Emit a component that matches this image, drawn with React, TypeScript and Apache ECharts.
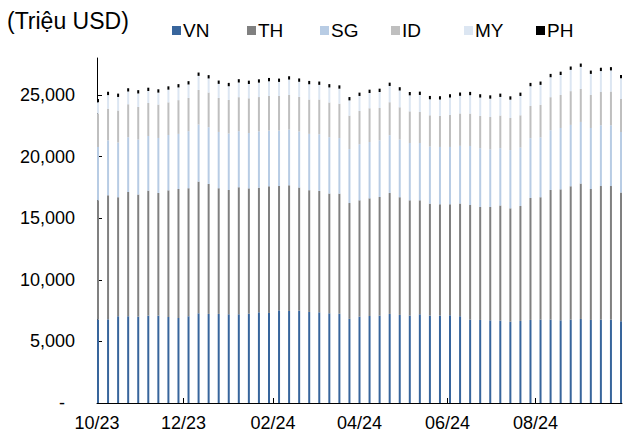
import { useEffect, useRef } from "react";
import * as echarts from "echarts";

const weeks = [
  "2023-10-02", "2023-10-09", "2023-10-16", "2023-10-23", "2023-10-30",
  "2023-11-06", "2023-11-13", "2023-11-20", "2023-11-27",
  "2023-12-04", "2023-12-11", "2023-12-18", "2023-12-25",
  "2024-01-01", "2024-01-08", "2024-01-15", "2024-01-22", "2024-01-29",
  "2024-02-05", "2024-02-12", "2024-02-19", "2024-02-26",
  "2024-03-04", "2024-03-11", "2024-03-18", "2024-03-25",
  "2024-04-01", "2024-04-08", "2024-04-15", "2024-04-22", "2024-04-29",
  "2024-05-06", "2024-05-13", "2024-05-20", "2024-05-27",
  "2024-06-03", "2024-06-10", "2024-06-17", "2024-06-24",
  "2024-07-01", "2024-07-08", "2024-07-15", "2024-07-22", "2024-07-29",
  "2024-08-05", "2024-08-12", "2024-08-19", "2024-08-26",
  "2024-09-02", "2024-09-09", "2024-09-16", "2024-09-23", "2024-09-30",
];

const vn = [6770, 6790, 7040, 7040, 7010, 7090, 7090, 6980, 6900, 7040, 7280, 7230, 7230, 7200, 7200, 7250, 7360, 7310, 7520, 7470, 7500, 7390, 7360, 7280, 7250, 6830, 7010, 7060, 7090, 7230, 7150, 7090, 7200, 7090, 7090, 7120, 7040, 6770, 6740, 6710, 6690, 6600, 6660, 6740, 6770, 6770, 6710, 6770, 6820, 6740, 6770, 6770, 6630];
const th = [9680, 10070, 9660, 10090, 9910, 10150, 9960, 10280, 10470, 10390, 10690, 10550, 10200, 10090, 10310, 10170, 10120, 10280, 10090, 10200, 9990, 9880, 9850, 9720, 9740, 9400, 9440, 9550, 9630, 9820, 9550, 9360, 9250, 9090, 9040, 9010, 9150, 9300, 9170, 9200, 9340, 9200, 9330, 9900, 9930, 10520, 10630, 10820, 10990, 10630, 10840, 10840, 10450];
const sg = [4330, 4460, 4440, 4440, 4460, 4430, 4460, 4490, 4470, 4630, 4630, 4600, 4570, 4580, 4550, 4490, 4570, 4520, 4500, 4520, 4550, 4570, 4600, 4570, 4510, 4380, 4550, 4570, 4600, 4680, 4680, 4650, 4650, 4630, 4650, 4650, 4680, 4790, 4770, 4680, 4650, 4730, 4740, 4850, 4850, 4850, 4980, 4980, 5000, 4950, 4930, 4930, 4920];
const id = [2710, 2570, 2600, 2680, 2650, 2680, 2710, 2650, 2740, 2700, 2810, 2820, 2760, 2730, 2760, 2820, 2780, 2810, 2810, 2810, 2810, 2790, 2820, 2820, 2790, 2710, 2700, 2740, 2620, 2680, 2620, 2570, 2520, 2540, 2520, 2600, 2630, 2630, 2620, 2620, 2650, 2600, 2620, 2620, 2650, 2680, 2680, 2740, 2680, 2680, 2700, 2740, 2680];
const my = [920, 1100, 1100, 1030, 1090, 970, 970, 1030, 1030, 1090, 1140, 1140, 1140, 1110, 1190, 1160, 1170, 1190, 1140, 1250, 1220, 1240, 1190, 1220, 1220, 1240, 1220, 1240, 1300, 1320, 1360, 1300, 1380, 1300, 1330, 1410, 1430, 1490, 1490, 1490, 1510, 1490, 1570, 1600, 1620, 1620, 1620, 1730, 1790, 1710, 1700, 1710, 1680];
const ph = [270, 270, 270, 270, 270, 270, 270, 270, 270, 270, 270, 270, 270, 270, 270, 270, 270, 270, 270, 270, 270, 270, 270, 270, 270, 270, 270, 270, 270, 270, 270, 270, 270, 270, 270, 270, 270, 270, 270, 270, 270, 270, 270, 270, 270, 270, 270, 270, 270, 270, 270, 270, 270];

const seriesNames = ["VN", "TH", "SG", "ID", "MY", "PH"];
const seriesValues = [vn, th, sg, id, my, ph];
const seriesColors = ["#38659C", "#808080", "#B8CCE4", "#BFBFBF", "#DCE6F2", "#000000"];
const legendLefts = [172, 247, 320, 391, 464, 536];

const xTickDates = ["2023-10-02", "2023-12-01", "2024-02-01", "2024-04-01", "2024-06-01", "2024-08-01"];
const xTickLabels = ["10/23", "12/23", "02/24", "04/24", "06/24", "08/24"];
const yTicks = [0, 5000, 10000, 15000, 20000, 25000];

const FONT = "'Liberation Sans', Arial, sans-serif";

function ts(s: string): number {
  const [y, m, d] = s.split("-").map(Number);
  return new Date(y, m - 1, d).getTime();
}

export default function App() {
  const ref = useRef<HTMLDivElement>(null);

  useEffect(() => {
    if (!ref.current) return;
    const chart = echarts.init(ref.current, null, { renderer: "svg" });
    const xTickTs = xTickDates.map(ts);
    const xMin = ts(weeks[0]);
    const xMax = ts(weeks[weeks.length - 1]);
    const labelFor = (v: number) => {
      let best = 0;
      let bd = Infinity;
      xTickTs.forEach((t, i) => {
        const d = Math.abs(t - v);
        if (d < bd) {
          bd = d;
          best = i;
        }
      });
      return xTickLabels[best];
    };

    chart.setOption({
      animation: false,
      backgroundColor: "#ffffff",
      textStyle: { fontFamily: FONT },
      title: {
        text: "(Triệu USD)",
        left: 7,
        top: 9,
        padding: 0,
        textStyle: { fontFamily: FONT, fontSize: 23, fontWeight: "normal", color: "#000" },
      },
      legend: seriesNames.map((n, i) => ({
        data: [n],
        left: legendLefts[i],
        top: 21,
        padding: 0,
        itemGap: 0,
        itemWidth: 9,
        itemHeight: 9,
        icon: "rect",
        selectedMode: false,
        textStyle: { fontFamily: FONT, fontSize: 19, color: "#000", padding: [0, 0, 0, -3] },
      })),
      grid: { left: 97, right: 14, top: 58, bottom: 31, containLabel: false },
      xAxis: [
        {
          type: "time",
          min: xMin,
          max: xMax,
          show: false,
          splitLine: { show: false },
        },
        {
          type: "value",
          min: xMin,
          max: xMax,
          position: "bottom",
          splitLine: { show: false },
          axisLine: { show: true, lineStyle: { color: "#000", width: 1 } },
          axisTick: { show: true, inside: true, length: 5, customValues: xTickTs, lineStyle: { color: "#000" } },
          axisLabel: {
            customValues: xTickTs,
            formatter: (v: number) => labelFor(v),
            fontFamily: FONT,
            fontSize: 18,
            color: "#000",
            margin: 11,
          },
        },
      ],
      yAxis: {
        type: "value",
        min: 0,
        max: 28000,
        splitLine: { show: false },
        axisLine: { show: true, lineStyle: { color: "#000", width: 1 } },
        axisTick: { show: true, inside: true, length: 5, customValues: yTicks, lineStyle: { color: "#000" } },
        axisLabel: {
          customValues: yTicks,
          margin: 22,
          fontFamily: FONT,
          fontSize: 18,
          color: "#000",
          formatter: (v: number) => (v === 0 ? "{z|-}" : v.toLocaleString("en-US")),
          rich: { z: { fontFamily: FONT, fontSize: 18, color: "#000", padding: [0, 10, 0, 0] } },
        },
      },
      series: seriesNames.map((n, i) => ({
        name: n,
        type: "bar",
        stack: "total",
        xAxisIndex: 0,
        barWidth: 2,
        barMinWidth: 1,
        barMaxWidth: 2,
        clip: false,
        silent: true,
        itemStyle: { color: seriesColors[i], borderWidth: 0 },
        emphasis: { disabled: true },
        data: weeks.map((w, j) => [ts(w), seriesValues[i][j]]),
      })),
    });
    return () => chart.dispose();
  }, []);

  return (
    <div
      ref={ref}
      style={{ position: "fixed", left: 0, top: 0, width: 636, height: 434, background: "#fff" }}
    />
  );
}
